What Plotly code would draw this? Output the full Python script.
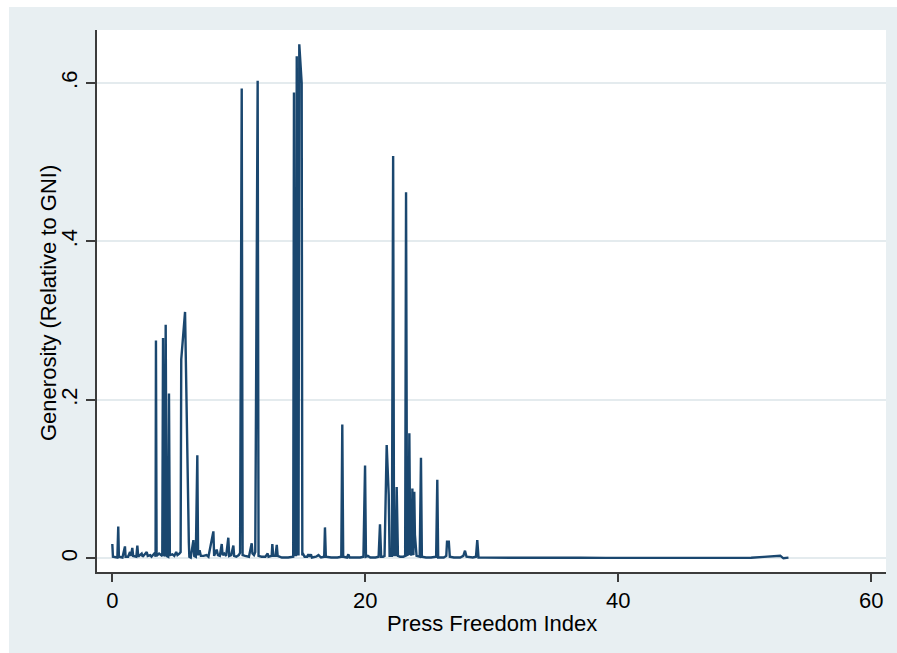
import plotly.graph_objects as go

# Press Freedom Index (x) vs. generosity relative to GNI (y), sorted by x
press_freedom = [
    0.00, 0.05, 0.40, 0.47, 0.52, 0.80, 1.00, 1.05, 1.25, 1.40, 1.48, 1.58, 1.65,
    1.90, 1.98, 2.05, 2.32, 2.40, 2.72, 2.80, 3.00, 3.10, 3.37, 3.42, 3.45, 3.50,
    3.70, 3.85, 3.95, 4.01, 4.07, 4.15, 4.22, 4.30, 4.42, 4.48, 4.55, 4.75, 4.90,
    5.05, 5.15, 5.30, 5.40, 5.45, 5.75, 6.05, 6.09, 6.20, 6.41, 6.48, 6.60, 6.72,
    6.78, 6.90, 7.00, 7.20, 7.45, 7.60, 7.99, 8.05, 8.25, 8.35, 8.50, 8.65, 8.72,
    8.85, 9.00, 9.17, 9.24, 9.40, 9.57, 9.63, 9.80, 10.00, 10.10, 10.23, 10.30,
    10.50, 10.80, 11.02, 11.08, 11.20, 11.30, 11.49, 11.56, 11.80, 12.10, 12.28,
    12.35, 12.60, 12.65, 12.72, 12.90, 13.00, 13.07, 13.40, 13.90, 14.30, 14.36,
    14.42, 14.52, 14.58, 14.66, 14.72, 14.78, 14.97, 15.02, 15.10, 15.20, 15.40,
    15.50, 15.58, 15.70, 15.78, 16.10, 16.30, 16.50, 16.75, 16.81, 16.88, 17.30,
    17.80, 18.10, 18.18, 18.25, 18.55, 18.66, 18.75, 19.20, 19.60, 19.85, 19.92,
    19.98, 20.05, 20.20, 20.40, 20.80, 21.05, 21.16, 21.25, 21.40, 21.52, 21.69,
    21.85, 21.92, 22.10, 22.20, 22.27, 22.40, 22.48, 22.58, 22.75, 23.00, 23.15,
    23.22, 23.30, 23.42, 23.48, 23.55, 23.66, 23.72, 23.80, 23.87, 23.92, 24.05,
    24.30, 24.40, 24.47, 24.80, 25.20, 25.60, 25.69, 25.76, 26.20, 26.40, 26.46,
    26.60, 26.68, 27.00, 27.50, 27.75, 27.88, 28.00, 28.50, 28.75, 28.85, 28.95,
    29.50, 31.00, 33.00, 35.00, 37.00, 39.00, 41.00, 43.00, 45.00, 47.00, 49.00,
    50.50, 51.50, 52.30, 52.80, 53.05, 53.30, 53.45,
]
generosity = [
    0.018, 0.002, 0.001, 0.040, 0.002, 0.001, 0.015, 0.002, 0.002, 0.008, 0.003, 0.013, 0.003,
    0.002, 0.016, 0.002, 0.006, 0.002, 0.008, 0.003, 0.004, 0.002, 0.007, 0.002, 0.275, 0.003,
    0.006, 0.004, 0.003, 0.278, 0.003, 0.004, 0.295, 0.003, 0.002, 0.208, 0.004, 0.005, 0.003,
    0.008, 0.004, 0.006, 0.008, 0.251, 0.311, 0.020, 0.002, 0.001, 0.023, 0.003, 0.002, 0.130,
    0.004, 0.010, 0.003, 0.003, 0.004, 0.002, 0.034, 0.003, 0.011, 0.004, 0.003, 0.018, 0.004,
    0.006, 0.003, 0.026, 0.003, 0.004, 0.016, 0.003, 0.002, 0.004, 0.007, 0.593, 0.004,
    0.003, 0.002, 0.019, 0.006, 0.004, 0.008, 0.603, 0.003, 0.002, 0.002, 0.006,
    0.002, 0.003, 0.018, 0.003, 0.003, 0.017, 0.003, 0.001, 0.001, 0.002, 0.588,
    0.004, 0.004, 0.634, 0.005, 0.005, 0.649, 0.600, 0.004, 0.005, 0.002, 0.002,
    0.005, 0.002, 0.005, 0.001, 0.002, 0.004, 0.001, 0.002, 0.039, 0.002, 0.001,
    0.001, 0.002, 0.169, 0.002, 0.001, 0.005, 0.001, 0.001, 0.001, 0.002, 0.045,
    0.117, 0.002, 0.003, 0.001, 0.001, 0.002, 0.043, 0.002, 0.002, 0.003, 0.143,
    0.080, 0.003, 0.003, 0.508, 0.004, 0.004, 0.090, 0.003, 0.002, 0.002, 0.003,
    0.462, 0.004, 0.005, 0.158, 0.006, 0.004, 0.088, 0.004, 0.084, 0.030, 0.003,
    0.002, 0.127, 0.002, 0.001, 0.001, 0.002, 0.099, 0.001, 0.001, 0.003, 0.021,
    0.021, 0.002, 0.001, 0.001, 0.003, 0.0096, 0.002, 0.001, 0.002, 0.023, 0.001,
    0.0008, 0.0006, 0.0007, 0.0005, 0.0006, 0.0005, 0.0004, 0.0005, 0.0004, 0.0005, 0.0006,
    0.0007, 0.0018, 0.0028, 0.0033, 0.0000, 0.0008, 0.0008,
]

x_ticks = [0, 20, 40, 60]
x_tick_labels = ["0", "20", "40", "60"]
y_ticks = [0, 0.2, 0.4, 0.6]
y_tick_labels = ["0", ".2", ".4", ".6"]
x_title = "Press Freedom Index"
y_title = "Generosity (Relative to GNI)"

W, H = 897, 653
M_L, M_R, M_T, M_B = 97, 11, 30, 81
plot_w = W - M_L - M_R
plot_h = H - M_T - M_B

BG = "#E8EFF2"
NAVY = "#1A476F"
AXIS = "#3C3C3C"
GRID = "#E4EBEE"
FONT = "Liberation Sans, Arial, sans-serif"
TEXT = dict(family=FONT, size=22, color="black")


def px_to_paper_x(px):
    return (px - M_L) / plot_w


def px_to_paper_y(py):
    return (H - M_B - py) / plot_h


fig = go.Figure()
fig.add_trace(go.Scatter(
    x=press_freedom, y=generosity, mode="lines",
    line=dict(color=NAVY, width=2.4),
    showlegend=False, hoverinfo="x+y",
))

# thin white border around the graph region (top and left)
shapes = [
    dict(type="rect", xref="paper", yref="paper", layer="below",
         x0=px_to_paper_x(0), x1=px_to_paper_x(W), y0=px_to_paper_y(7), y1=px_to_paper_y(0),
         fillcolor="white", line=dict(width=0)),
    dict(type="rect", xref="paper", yref="paper", layer="below",
         x0=px_to_paper_x(0), x1=px_to_paper_x(9), y0=px_to_paper_y(H), y1=px_to_paper_y(0),
         fillcolor="white", line=dict(width=0)),
]

# axis titles placed as annotations for precise positioning
annotations = [
    dict(text=x_title, xref="paper", yref="paper", x=0.5, y=px_to_paper_y(623),
         xanchor="center", yanchor="middle", showarrow=False, font=TEXT),
    dict(text=y_title, xref="paper", yref="paper", x=px_to_paper_x(48), y=px_to_paper_y(303),
         xanchor="center", yanchor="middle", textangle=-90, showarrow=False, font=TEXT),
]

fig.update_layout(
    width=W, height=H,
    margin=dict(l=M_L, r=M_R, t=M_T, b=M_B, pad=0),
    paper_bgcolor=BG, plot_bgcolor="white",
    font=TEXT,
    shapes=shapes,
    annotations=annotations,
    xaxis=dict(
        range=[-1.21, 61.16], tickmode="array", tickvals=x_ticks, ticktext=x_tick_labels,
        showgrid=False, zeroline=False, showline=True, linecolor=AXIS, linewidth=1.5,
        ticks="outside", ticklen=8, tickwidth=1.5, tickcolor=AXIS,
        tickfont=TEXT,
    ),
    yaxis=dict(
        range=[-0.0173, 0.667], tickmode="array", tickvals=y_ticks, ticktext=y_tick_labels,
        tickangle=-90,
        showgrid=True, gridcolor=GRID, gridwidth=1.5, zeroline=False,
        showline=True, linecolor=AXIS, linewidth=1.5,
        ticks="outside", ticklen=9, tickwidth=1.5, tickcolor=AXIS,
        tickfont=TEXT,
    ),
)

fig.write_html("out.html")
